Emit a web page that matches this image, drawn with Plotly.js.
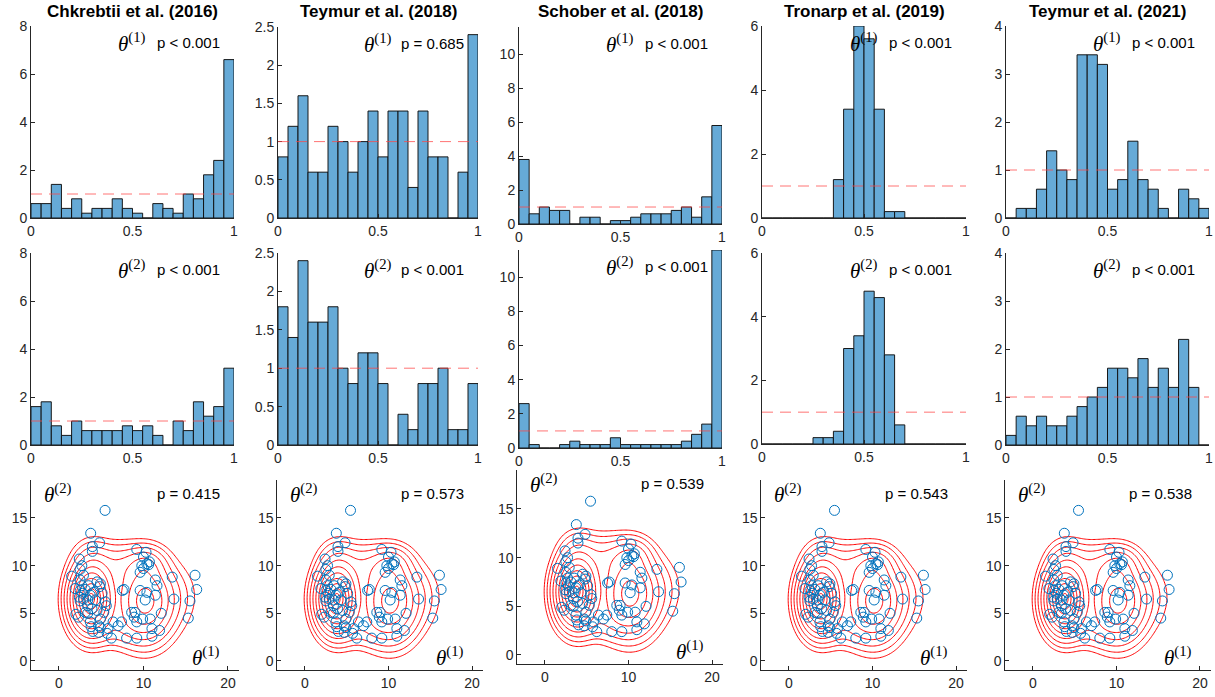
<!DOCTYPE html>
<html><head><meta charset="utf-8">
<script src="https://cdn.plot.ly/plotly-3.0.1.min.js"></script>
<style>html,body{margin:0;padding:0;background:#fff}#chart{width:1215px;height:697px}</style>
</head><body><div id="chart"></div>
<script>
// ---------------- data ----------------
const methods = ['Chkrebtii et al. (2016)', 'Teymur et al. (2018)', 'Schober et al. (2018)', 'Tronarp et al. (2019)', 'Teymur et al. (2021)'];
const binCenters = [0.025,0.075,0.125,0.175,0.225,0.275,0.325,0.375,0.425,0.475,0.525,0.575,0.625,0.675,0.725,0.775,0.825,0.875,0.925,0.975];

const theta1Chkrebtii = [0.6,0.6,1.4,0.4,0.8,0.2,0.4,0.4,0.8,0.4,0.2,0,0.6,0.4,0.2,1.0,0.8,1.8,2.4,6.6];
const theta1Teymur18  = [0.8,1.2,1.6,0.6,0.6,1.2,1.0,0.6,1.0,1.4,0.8,1.4,1.4,0.4,1.4,0.8,0.8,0,0.6,2.4];
const theta1Schober   = [3.8,0.6,1.0,0.8,0.8,0,0.4,0.4,0,0.2,0.2,0.4,0.6,0.6,0.6,0.8,1.0,0.4,1.6,5.8];
const theta1Tronarp   = [0,0,0,0,0,0,0,1.2,3.4,6.0,5.6,3.4,0.2,0.2,0,0,0,0,0,0];
const theta1Teymur21  = [0,0.2,0.2,0.6,1.4,1.0,0.8,3.4,3.4,3.2,0.6,0.8,1.6,0.8,0.6,0.2,0,0.6,0.4,0.2];

const theta2Chkrebtii = [1.6,1.8,0.8,0.4,1.0,0.6,0.6,0.6,0.6,0.8,0.6,0.8,0.4,0,1.0,0.6,1.8,1.2,1.6,3.2];
const theta2Teymur18  = [1.8,1.4,2.4,1.6,1.6,1.8,1.0,0.8,1.2,1.2,0.8,0,0.4,0.2,0.8,0.8,1.0,0.2,0.2,0.8];
const theta2Schober   = [2.6,0.2,0,0,0.2,0.4,0.2,0.2,0.2,0.6,0.2,0.2,0.2,0.2,0.2,0.2,0.4,0.8,1.4,11.6];
const theta2Tronarp   = [0,0,0,0,0,0.2,0.2,0.4,3.0,3.4,4.8,4.6,2.8,0.6,0,0,0,0,0,0];
const theta2Teymur21  = [0.2,0.6,0.4,0.6,0.4,0.4,0.6,0.8,1.0,1.2,1.6,1.6,1.4,1.8,1.2,1.6,1.2,2.2,1.2,0];

const histYMax   = [8, 2.5, 11.6, 6, 4];
const histYTicks = [[0,2,4,6,8],[0,0.5,1,1.5,2,2.5],[0,2,4,6,8,10],[0,2,4,6],[0,1,2,3,4]];

const pTheta1 = ['p < 0.001','p = 0.685','p < 0.001','p < 0.001','p < 0.001'];
const pTheta2 = ['p < 0.001','p < 0.001','p < 0.001','p < 0.001','p < 0.001'];
const pJoint  = ['p = 0.415','p = 0.573','p = 0.539','p = 0.543','p = 0.538'];

// joint samples (theta1, theta2)
const sampleX = [5.45,3.75,4.8,3.95,3.95,2.4,9.2,10.3,10.0,10.4,10.7,9.8,10.0,9.6,10.6,2.7,2.5,1.5,2.9,2.5,2.7,3.1,2.8,2.4,2.9,2.5,3.4,3.7,4.5,4.9,4.1,3.4,4.3,4.5,5.5,5.6,5.3,1.9,2.0,2.3,3.7,3.8,4.0,4.7,4.9,4.7,5.8,5.7,6.2,6.4,7.0,7.4,7.5,7.7,8.0,9.2,8.6,8.9,9.2,9.0,9.6,9.9,10.8,11.0,11.0,11.9,12.1,10.2,10.4,11.4,11.4,11.6,13.4,13.6,16.1,16.3,15.5,15.3,5.1,4.8,3.5,3.1,3.4,4.9,3.9,2.5];
const sampleY = [15.8,13.4,12.4,12.0,11.5,10.7,11.7,11.4,10.9,10.2,10.4,10.0,9.7,9.3,10.1,10.0,9.6,8.9,9.0,8.5,7.9,7.5,7.1,6.7,6.5,6.3,6.4,6.9,8.3,8.1,7.2,5.8,6.4,5.3,6.2,5.8,5.1,7.6,4.9,4.6,4.1,3.6,3.1,3.7,3.5,3.0,3.4,2.9,2.4,4.1,3.7,4.1,7.4,7.5,2.4,2.4,5.1,4.6,4.1,5.1,7.4,4.4,4.4,3.4,2.6,3.2,5.0,6.4,7.2,8.5,6.9,7.9,8.8,6.5,9.0,7.5,6.3,4.5,7.1,7.8,7.9,5.1,5.0,4.4,5.5,7.4];

// reference density read as a gaussian mixture (means, spreads, peak heights)
const mixMeanX  = [3.8, 10.2, 10.3, 14.0, 4.0, 7.0, 7.0];
const mixMeanY  = [6.5, 6.3, 10.2, 6.8, 10.5, 3.5, 9.8];
const mixSdX    = [1.3, 1.8, 1.3, 1.6, 1.3, 2.0, 2.0];
const mixSdY    = [1.85, 2.2, 1.0, 2.0, 1.3, 1.2, 1.4];
const mixPeak   = [1.0, 0.45, 0.1, 0.02, 0.05, 0.05, 0.08];

// ---------------- layout geometry (pixels) ----------------
const W = 1215, H = 697;
const histX = [[31,234],[278,478],[519,722],[762,966],[1006,1209]];
const histRow1Y = [[26,218],[27,218],[27,224],[26,218],[26,218]];
const histRow2Y = [[253,445],[253,445],[250,448],[253,444],[253,445]];
const jointX0 = [59,305,545,789,1033];   // pixel of theta1 = 0
const jointX20 = [228,472,712,956,1200]; // pixel of theta1 = 20
const jointY0 = [661,661,655,661,661];   // pixel of theta2 = 0
const jointY15 = [518,518,509,518,518];  // pixel of theta2 = 15

const X_RANGE = [-3.3, 21.3], Y_RANGE = [-0.94, 19];

const fx = p => p / W;
const fy = p => 1 - p / H;

const tickFont = {family:'Liberation Sans, Arial, sans-serif', size:14, color:'#262626'};
function baseAxis(extra){
  return Object.assign({
    showgrid:false, zeroline:false, showline:true, linecolor:'#262626', linewidth:1,
    ticks:'inside', ticklen:4, tickcolor:'#262626', tickfont:tickFont, fixedrange:true
  }, extra);
}

const traces = [], layout = {
  width:W, height:H, margin:{l:0,r:0,t:0,b:0}, paper_bgcolor:'#fff', plot_bgcolor:'#fff',
  showlegend:false, annotations:[], shapes:[]
};

const theta1Sets = [theta1Chkrebtii, theta1Teymur18, theta1Schober, theta1Tronarp, theta1Teymur21];
const theta2Sets = [theta2Chkrebtii, theta2Teymur18, theta2Schober, theta2Tronarp, theta2Teymur21];

function axName(i){ return i===1 ? '' : String(i); }

const thetaFont = {family:'Liberation Serif, DejaVu Serif, serif', size:21, color:'#000'};
const pFont = {family:'Liberation Sans, Arial, sans-serif', size:15, color:'#000'};

function addHist(idx, col, vals, ydom, which, ptxt){
  const n = axName(idx);
  traces.push({type:'bar', x:binCenters, y:vals, width:0.05, xaxis:'x'+n, yaxis:'y'+n,
    marker:{color:'#66AAD7', line:{color:'rgba(15,15,15,0.95)', width:1}}, hoverinfo:'skip'});
  layout['xaxis'+n] = baseAxis({domain:[fx(histX[col][0]), fx(histX[col][1])], range:[0,1],
    tickvals:[0,0.5,1], ticktext:['0','0.5','1'], anchor:'y'+n});
  layout['yaxis'+n] = baseAxis({domain:[fy(ydom[1]), fy(ydom[0])], range:[0,histYMax[col]],
    tickvals:histYTicks[col], anchor:'x'+n});
  layout.shapes.push({type:'line', xref:'x'+n, yref:'y'+n, x0:0, x1:1, y0:1, y1:1,
    line:{color:'rgba(255,70,70,0.75)', width:1, dash:'11px,7px'}});
  layout.annotations.push({xref:'x'+n+' domain', yref:'y'+n+' domain', x:0.578, y:0.915,
    xanchor:'right', yanchor:'middle', showarrow:false, font:thetaFont,
    text:'<i>θ</i><sup>('+which+')</sup>'});
  layout.annotations.push({xref:'x'+n+' domain', yref:'y'+n+' domain', x:0.94, y:0.915,
    xanchor:'right', yanchor:'middle', showarrow:false, font:pFont, text:ptxt});
}

// density grid for contour, expressed as a "distance from the top" so levels are evenly spaced
const gridX = [], gridY = [];
for (let v = -2; v <= 20.001; v += 0.15) gridX.push(+v.toFixed(2));
for (let v = -1; v <= 18.001; v += 0.15) gridY.push(+v.toFixed(2));
const dens = gridY.map(yv => gridX.map(xv => {
  let s = 0;
  for (let k = 0; k < mixPeak.length; k++) {
    const dx = (xv - mixMeanX[k]) / mixSdX[k], dy = (yv - mixMeanY[k]) / mixSdY[k];
    s += mixPeak[k] * Math.exp(-0.5 * (dx*dx + dy*dy));
  }
  return s;
}));
let zMax = 0; dens.forEach(r => r.forEach(v => { if (v > zMax) zMax = v; }));
const gridZ = dens.map(r => r.map(v => -Math.sqrt(2 * Math.log(zMax / Math.max(v, 1e-12)))));

for (let c = 0; c < 5; c++) {
  addHist(c+1, c, theta1Sets[c], histRow1Y[c], 1, pTheta1[c]);
  addHist(c+6, c, theta2Sets[c], histRow2Y[c], 2, pTheta2[c]);
  layout.annotations.push({xref:'paper', yref:'paper',
    x:fx((histX[c][0]+histX[c][1])/2), y:fy(12), xanchor:'center', yanchor:'middle', showarrow:false,
    font:{family:'Liberation Sans, Arial, sans-serif', size:17, color:'#000', weight:'bold'},
    text:'<b>'+methods[c]+'</b>'});

  // joint panel
  const idx = c + 11, n = axName(idx);
  const kx = (jointX20[c] - jointX0[c]) / 20;
  const ky = (jointY0[c] - jointY15[c]) / 15;
  const xl = jointX0[c] + X_RANGE[0]*kx, xr = jointX0[c] + X_RANGE[1]*kx;
  const yb = jointY0[c] - Y_RANGE[0]*ky, yt = jointY0[c] - Y_RANGE[1]*ky;
  layout['xaxis'+n] = baseAxis({domain:[fx(xl), fx(xr)], range:X_RANGE, tickvals:[0,10,20], anchor:'y'+n});
  layout['yaxis'+n] = baseAxis({domain:[fy(yb), fy(yt)], range:Y_RANGE, tickvals:[0,5,10,15], anchor:'x'+n});
  traces.push({type:'contour', x:gridX, y:gridY, z:gridZ, xaxis:'x'+n, yaxis:'y'+n,
    contours:{coloring:'lines', start:-3.0, end:-0.3, size:0.27},
    colorscale:[[0,'#ff0000'],[1,'#ff0000']], showscale:false, line:{width:1, smoothing:1}, hoverinfo:'skip'});
  traces.push({type:'scatter', mode:'markers', x:sampleX, y:sampleY, xaxis:'x'+n, yaxis:'y'+n,
    marker:{symbol:'circle-open', size:10, color:'#0072BD', line:{width:1, color:'#0072BD'}}, hoverinfo:'skip'});
  layout.annotations.push({xref:'x'+n+' domain', yref:'y'+n+' domain', x:0.05, y:0.93,
    xanchor:'left', yanchor:'middle', showarrow:false, font:thetaFont, text:'<i>θ</i><sup>(2)</sup>'});
  layout.annotations.push({xref:'x'+n+' domain', yref:'y'+n+' domain', x:0.92, y:0.93,
    xanchor:'right', yanchor:'middle', showarrow:false, font:pFont, text:pJoint[c]});
  layout.annotations.push({xref:'x'+n+' domain', yref:'y'+n+' domain', x:0.92, y:0.07,
    xanchor:'right', yanchor:'middle', showarrow:false, font:thetaFont, text:'<i>θ</i><sup>(1)</sup>'});
}

Plotly.newPlot('chart', traces, layout, {staticPlot:true, displayModeBar:false});
</script></body></html>
